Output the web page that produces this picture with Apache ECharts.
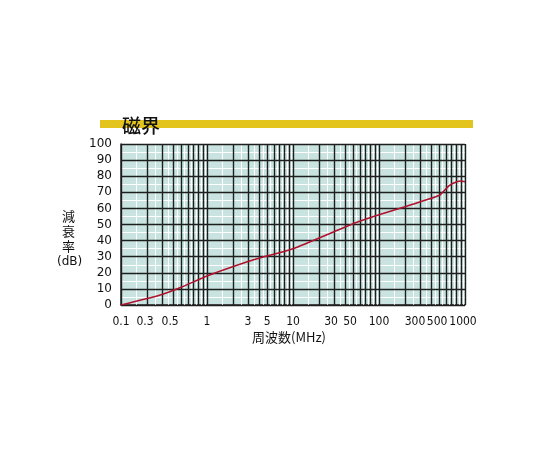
<!DOCTYPE html>
<html><head><meta charset="utf-8">
<script src="https://cdn.jsdelivr.net/npm/echarts@6/dist/echarts.min.js"></script>
<style>html,body{margin:0;padding:0;background:#fff}#c{width:540px;height:450px}</style>
</head><body><div id="c"></div>
<script>
var freqMHz = [0.1, 0.28, 0.5, 1, 3, 5, 10, 50, 100, 200, 500, 550, 650, 800, 900, 1000];
var attenDb = [0, 6, 11, 18, 27, 30.5, 35, 50.5, 56, 61, 68, 70, 74, 76.5, 77, 76.5];
var xTickLabels = [0.1, 0.3, 0.5, 1, 3, 5, 10, 30, 50, 100, 300, 500, 1000];
var yMin = 0, yMax = 100, yStep = 10;
var title = '磁界';
var yName = ['減', '衰', '率', '(dB)'];
var xName = '周波数(MHz)';

// label nudges (px, leftwards) to mimic the reference's label placement
var labelShift = { '0.3': 17, '0.5': 11, '30': 3, '50': 3, '300': 5, '500': 2, '1000': 2 };

var darkX = [], whiteX = [], darkY = [], whiteY = [];
[0.1, 1, 10, 100].forEach(function (d) {
  for (var k = 1; k <= 9; k++) {
    darkX.push(+(k * d).toPrecision(6));
    whiteX.push(+((k + 0.5) * d).toPrecision(6));
  }
});
darkX.push(1000);
for (var v = yMin; v <= yMax; v += yStep) { darkY.push(v); if (v < yMax) whiteY.push(v + yStep / 2); }

function ml(xs, ys, color, width, z) {
  var d = [];
  xs.forEach(function (x) { d.push({ xAxis: x }); });
  ys.forEach(function (y) { d.push({ yAxis: y }); });
  return { silent: true, z: z, symbol: ['none', 'none'], label: { show: false },
    lineStyle: { color: color, width: width, type: 'solid' }, emphasis: { disabled: true }, animation: false, data: d };
}

var rich = {};
Object.keys(labelShift).forEach(function (k, i) {
  rich['s' + i] = { padding: [0, labelShift[k] * 2, 0, 0] };
});
var shiftKeys = Object.keys(labelShift);

var chart = echarts.init(document.getElementById('c'));
chart.setOption({
  animation: false,
  grid: { left: 121, top: 144, right: 75, bottom: 145, show: true, backgroundColor: '#c9e4e0', borderWidth: 0 },
  xAxis: {
    type: 'log', logBase: 10, min: 0.1, max: 1000,
    axisLine: { show: true, lineStyle: { color: '#222', width: 1.5 } },
    axisTick: { show: false },
    splitLine: { show: false },
    axisLabel: { show: true, customValues: xTickLabels, margin: 11, color: '#111',
      fontFamily: 'Liberation Sans Narrow, DejaVu Sans Condensed, sans-serif', fontSize: 12,
      rich: rich,
      formatter: function (v) {
        var s = String(+v.toPrecision(6));
        var i = shiftKeys.indexOf(s);
        return i >= 0 ? '{s' + i + '|' + s + '}' : s;
      } }
  },
  yAxis: {
    type: 'value', min: yMin, max: yMax, interval: yStep,
    axisLine: { show: true, lineStyle: { color: '#222', width: 1.5 } },
    axisTick: { show: false },
    splitLine: { show: false },
    axisLabel: { margin: 9, color: '#111', fontFamily: 'DejaVu Sans, sans-serif', fontSize: 12 }
  },
  series: [
    { type: 'line', data: [], z: 1, markLine: ml(whiteX, whiteY, '#ffffff', 1, 1) },
    { type: 'line', data: [], z: 2, markLine: ml(darkX, darkY, '#1e1e1e', 1.4, 2) },
    { type: 'line', z: 10, data: freqMHz.map(function (f, i) { return [f, attenDb[i]]; }),
      showSymbol: false, symbol: 'none', smooth: 0.2,
      lineStyle: { color: '#b0122e', width: 1.6 } }
  ],
  graphic: [
    { type: 'rect', shape: { x: 100, y: 120, width: 373, height: 8 }, style: { fill: '#e2c41c' }, z: 10 },
    { type: 'text', left: 122, top: 116, z: 11, style: { text: title, font: '500 19px "Noto Sans CJK JP", sans-serif', fill: '#111' } },
    { type: 'text', left: 62, top: 210, z: 11, style: { text: yName[0], font: '13px "Noto Sans CJK JP", sans-serif', fill: '#111' } },
    { type: 'text', left: 62, top: 225, z: 11, style: { text: yName[1], font: '13px "Noto Sans CJK JP", sans-serif', fill: '#111' } },
    { type: 'text', left: 62, top: 240, z: 11, style: { text: yName[2], font: '13px "Noto Sans CJK JP", sans-serif', fill: '#111' } },
    { type: 'text', left: 57, top: 256, z: 11, style: { text: yName[3], font: '12px "DejaVu Sans", sans-serif', fill: '#111' } },
    { type: 'text', left: 252, top: 331, z: 11, style: { text: xName, font: '13px "Noto Sans CJK JP", sans-serif', fill: '#111' } }
  ]
});
</script></body></html>
